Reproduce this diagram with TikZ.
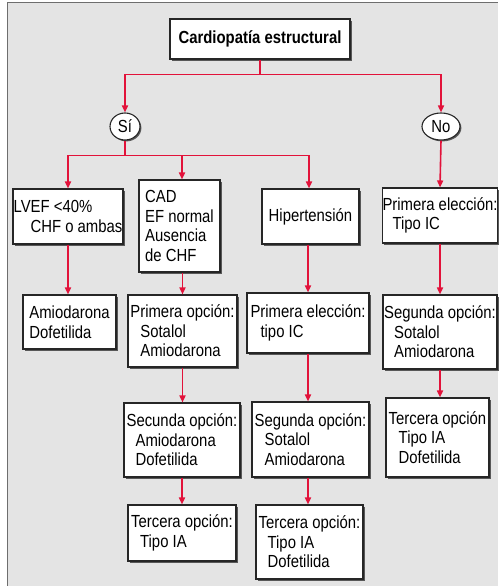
\documentclass[tikz,border=0pt]{standalone}
\usepackage{fontspec}
\setmainfont{Liberation Sans}[FakeStretch=0.85]
\usetikzlibrary{arrows.meta,shapes.geometric,shadows}
\definecolor{bg}{RGB}{228,228,228}
\definecolor{arr}{RGB}{226,18,58}
\definecolor{frm}{RGB}{110,110,110}
\tikzset{
  box/.style={draw=black!85, line width=1.1pt, fill=white, inner sep=0pt, align=left,
    font=\fontsize{17.5}{19.5}\selectfont,
    drop shadow={shadow xshift=1.6pt, shadow yshift=-1.6pt, opacity=0.85, fill=black!75}},
  oval/.style={ellipse, draw=black!85, line width=1.1pt, fill=white, inner sep=0pt,
    font=\fontsize{17.5}{19.5}\selectfont,
    drop shadow={shadow xshift=1.4pt, shadow yshift=-1.4pt, opacity=0.85, fill=black!75}},
  conn/.style={draw=arr, line width=1.6pt},
  arrow/.style={conn, -{Triangle[width=6pt,length=7pt]}}
}
\begin{document}
\begin{tikzpicture}[x=1pt,y=-1pt]
\useasboundingbox (0,0) rectangle (498,586);
\fill[white] (0,0) rectangle (498,586);
\fill[bg] (7,3) rectangle (498,586);
\draw[frm, line width=1pt] (7,586) -- (7,3) -- (498,3);

\node[box, minimum width=180pt, minimum height=40pt, font=\fontsize{17.5}{19.5}\selectfont\bfseries] (top) at (260,39) {Cardiopatía estructural};
\node[oval, minimum width=30pt, minimum height=27pt] (si) at (125,126.5) {Sí};
\node[oval, minimum width=38pt, minimum height=27pt] (no) at (441,126.5) {No};

\node[box, minimum width=110pt, minimum height=55pt] (lvef) at (68,216.5) {LVEF <40\%\\\hspace*{17pt}CHF o ambas};
\node[box, minimum width=81pt, minimum height=92pt] (cad) at (179.5,226) {CAD\\EF normal\\Ausencia\\de CHF};
\node[box, minimum width=97pt, minimum height=55pt] (hip) at (310.5,216.5) {Hipertensión};
\node[box, minimum width=114pt, minimum height=55pt] (pe4) at (440,215.5) {Primera elección:\\\hspace*{10pt}Tipo IC};

\node[box, minimum width=93pt, minimum height=54pt] (amio) at (69.5,322) {Amiodarona\\Dofetilida};
\node[box, minimum width=109pt, minimum height=72pt] (po2) at (182.5,331) {Primera opción:\\\hspace*{10pt}Sotalol\\\hspace*{10pt}Amiodarona};
\node[box, minimum width=122pt, minimum height=60pt] (pe3) at (308,323) {Primera elección:\\\hspace*{10pt}tipo IC};
\node[box, minimum width=114pt, minimum height=74pt] (sg4) at (440,332) {Segunda opción:\\\hspace*{10pt}Sotalol\\\hspace*{10pt}Amiodarona};

\node[box, minimum width=116pt, minimum height=74pt] (so2) at (182,440) {Secunda opción:\\\hspace*{9pt}Amiodarona\\\hspace*{9pt}Dofetilida};
\node[box, minimum width=117pt, minimum height=75pt] (sg3) at (310.5,439.5) {Segunda opción:\\\hspace*{10pt}Sotalol\\\hspace*{10pt}Amiodarona};
\node[box, minimum width=103pt, minimum height=79pt] (ter4) at (437.5,437.5) {Tercera opción\\\hspace*{10pt}Tipo IA\\\hspace*{10pt}Dofetilida};

\node[box, minimum width=108pt, minimum height=56pt] (ter2) at (182,533) {Tercera opción:\\\hspace*{9pt}Tipo IA};
\node[box, minimum width=107pt, minimum height=74pt] (ter3) at (309.5,542) {Tercera opción:\\\hspace*{9pt}Tipo IA\\\hspace*{9pt}Dofetilida};

% connectors
\draw[conn] (top.south) -- ++(0,15) coordinate (b1);
\draw[arrow] (b1) -| (si.north);
\draw[arrow] (b1) -| (no.north);
\draw[conn] (si.south) -- ++(0,15) coordinate (b2);
\draw[arrow] (b2) -| (lvef.north);
\draw[arrow] (b2) -| ([xshift=2.5pt]cad.north);
\draw[arrow] (b2) -| ([xshift=-1.5pt]hip.north);
\draw[arrow] (no.south) -- (pe4.north);

\draw[arrow] (lvef.south) -- (lvef.south |- amio.north);
\draw[arrow] (po2.north |- cad.south) -- (po2.north);
\draw[arrow] (po2.south) -- (po2.south |- so2.north);
\draw[arrow] (so2.south) -- (ter2.north);

\draw[arrow] (pe3.north |- hip.south) -- (pe3.north);
\draw[arrow] (pe3.south) -- (pe3.south |- sg3.north);
\draw[arrow] (pe3.south |- sg3.south) -- (pe3.south |- ter3.north);

\draw[arrow] (pe4.south) -- (sg4.north);
\draw[arrow] (sg4.south) -- (sg4.south |- ter4.north);
\end{tikzpicture}
\end{document}
